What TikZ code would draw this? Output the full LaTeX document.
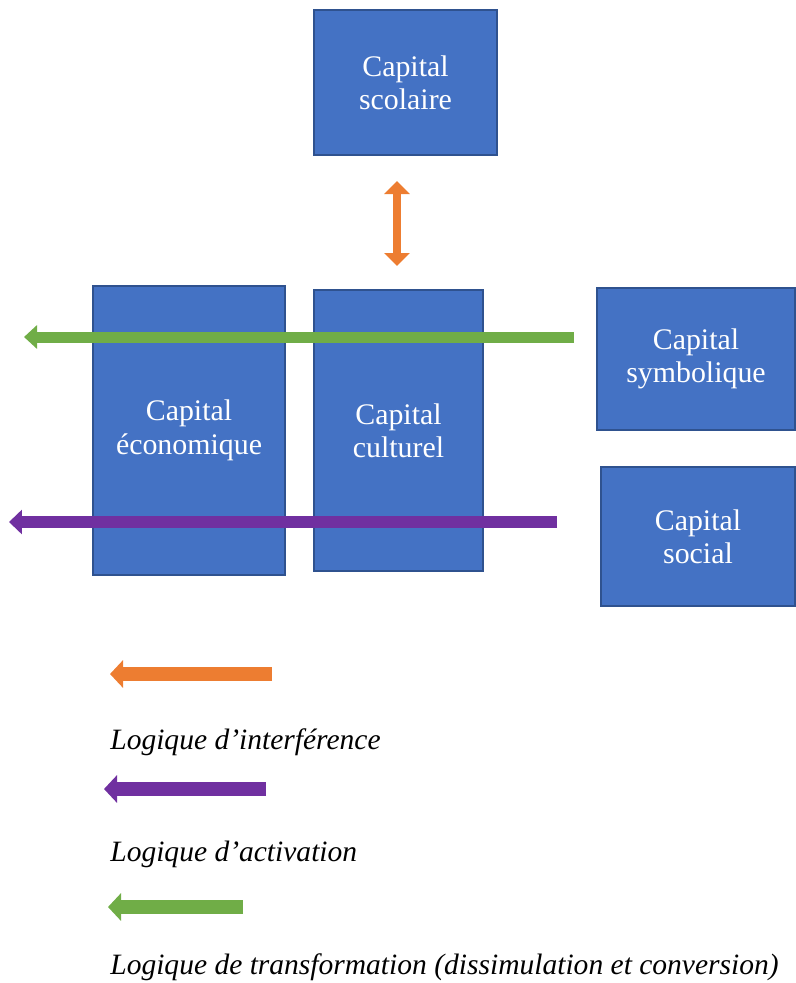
\documentclass[tikz,border=0pt]{standalone}
\usepackage{fontspec}
\setmainfont{Liberation Serif}
\usetikzlibrary{arrows.meta, positioning}

\definecolor{capblue}{HTML}{4472C4}
\definecolor{capedge}{HTML}{2F528F}
\definecolor{interorange}{HTML}{ED7D31}
\definecolor{actpurple}{HTML}{7030A0}
\definecolor{transgreen}{HTML}{70AD47}

\begin{document}
\begin{tikzpicture}[
    capital/.style={rectangle, fill=capblue, draw=capedge, line width=0.04cm,
      text=white, align=center, inner sep=0pt, font=\fontsize{17}{19}\selectfont},
    logic/.style={anchor=west, inner sep=0pt, font=\fontsize{16.8}{19}\selectfont\itshape},
    interf/.style={draw=interorange, line width=0.28cm,
      -{Triangle[width=0.54cm, length=0.26cm]}},
    activ/.style={draw=actpurple, line width=0.24cm,
      -{Triangle[width=0.48cm, length=0.26cm]}},
    transf/.style={draw=transgreen, line width=0.22cm,
      -{Triangle[width=0.46cm, length=0.26cm]}},
    legendarrow/.style={line width=0.28cm, -{Triangle[width=0.54cm, length=0.26cm]}}
  ]

  \useasboundingbox (0,0) rectangle (15.9,-19.66);

  % Capitals
  \node[capital, minimum width=3.66cm, minimum height=2.9cm] (scolaire) at (8.11,-1.65) {Capital\\scolaire};
  \node[capital, minimum width=3.84cm, minimum height=5.78cm] (economique) at (3.78,-8.61) {Capital\\économique};
  \node[capital, minimum width=3.38cm, minimum height=5.62cm] (culturel) at (7.97,-8.61) {Capital\\culturel};
  \node[capital, minimum width=3.96cm, minimum height=2.84cm] (symbolique) at (13.92,-7.18) {Capital\\symbolique};
  \node[capital, minimum width=3.88cm, minimum height=2.78cm] (social) at (13.96,-10.73) {Capital\\social};

  % Free ends
  \coordinate (gend) at (0.48,-6.74);
  \coordinate (pend) at (0.18,-10.44);

  % Arrows between capitals
  \draw[draw=interorange, line width=0.16cm,
    {Triangle[width=0.5cm, length=0.26cm]}-{Triangle[width=0.5cm, length=0.26cm]},
    shorten <=0.5cm, shorten >=0.46cm]
    ([xshift=-0.03cm]culturel.north |- scolaire.south) -- ([xshift=-0.03cm]culturel.north);
  \draw[transf] ([xshift=-0.44cm]symbolique.west |- gend) -- (gend);
  \draw[activ] ([xshift=-0.86cm]social.west |- pend) -- (pend);

  % Legend
  \coordinate (l1) at (5.44,-13.48);
  \coordinate (l2) at (5.32,-15.78);
  \coordinate (l3) at (4.86,-18.14);
  \draw[interf] (l1) -- ++(-3.24,0);
  \node[logic] (linterf) at (2.2,-14.84) {Logique d’interférence};
  \draw[activ, legendarrow] (l2) -- ++(-3.24,0);
  \node[logic] (lactiv) at (2.2,-17.08) {Logique d’activation};
  \draw[transf, legendarrow] (l3) -- ++(-2.7,0);
  \node[logic] (ltransf) at (2.2,-19.34) {Logique de transformation (dissimulation et conversion)};

\end{tikzpicture}
\end{document}
